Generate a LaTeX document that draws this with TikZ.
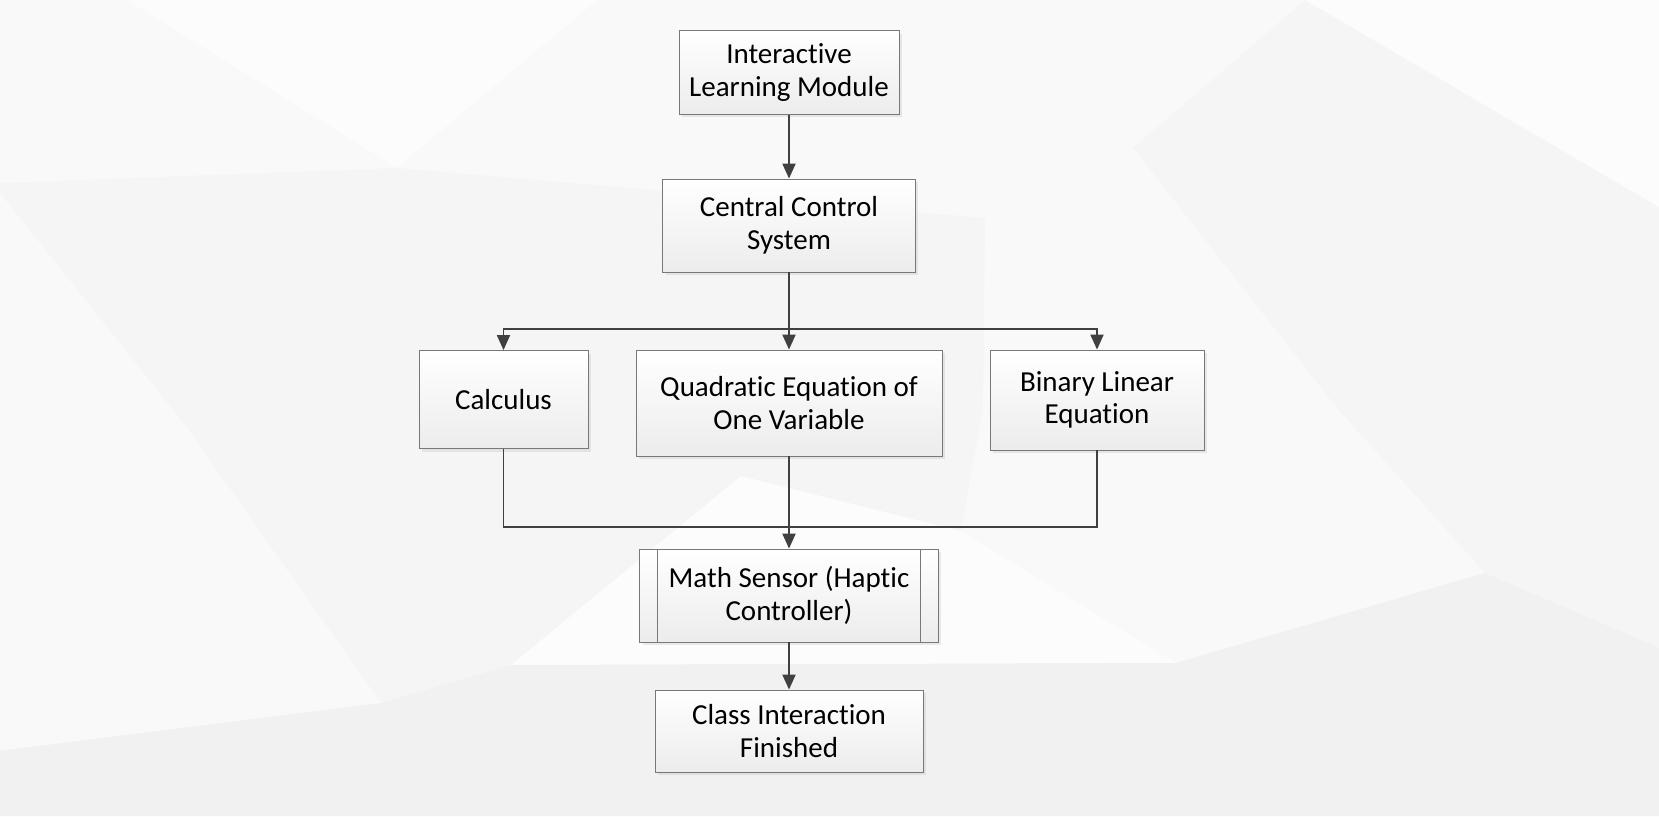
\documentclass[tikz,border=0pt]{standalone}
\usepackage{fontspec}
\setmainfont{Carlito}[Ligatures=CommonOff]
\usetikzlibrary{arrows.meta, shadows}
\definecolor{bgbase}{RGB}{245,245,245}
\definecolor{bglight}{RGB}{249,249,249}
\definecolor{bgwhite}{RGB}{252,252,252}
\definecolor{bgdark}{RGB}{241,241,241}
\definecolor{boxline}{RGB}{120,120,120}
\definecolor{boxbot}{RGB}{236,236,236}
\definecolor{linegray}{RGB}{64,64,64}

\begin{document}
\begin{tikzpicture}[x=0.02cm, y=-0.02cm,
  box/.style={draw=boxline, line width=0.5pt, top color=white, bottom color=boxbot,
    align=center, inner sep=0pt, font=\fontsize{16.5}{18.6}\selectfont,
    drop shadow={shadow xshift=0.06cm, shadow yshift=-0.06cm, opacity=0.15}},
  arr/.style={draw=linegray, line width=1.1pt, -{Triangle[length=0.3cm,width=0.26cm]}},
  line/.style={draw=linegray, line width=1.1pt}]
  \useasboundingbox (0,0) rectangle (1659,816);
  % background
  \fill[bgbase] (0,0) rectangle (1659,816);
  \fill[bglight] (0,0) -- (127,0) -- (397,168) -- (0,183) -- cycle;
  \fill[bgwhite] (127,0) -- (598,0) -- (397,168) -- cycle;
  \fill[bglight] (598,0) -- (1305,0) -- (1133,148) -- (985,218) -- (397,168) -- cycle;
  \fill[bgwhite] (1305,0) -- (1659,0) -- (1659,207) -- cycle;
  \fill[bglight] (985,218) -- (1133,148) -- (1337,408) -- (1485,573) -- (1176,663) -- (961,531) -- (983,408) -- cycle;
  \fill[bglight] (0,193) -- (185,425) -- (381,703) -- (0,751) -- cycle;
  \fill[bgwhite] (511,665) -- (741,476) -- (961,531) -- (1176,663) -- cycle;
  \fill[bgdark] (0,751) -- (381,703) -- (511,665) -- (1176,663) -- (1485,573) -- (1659,648) -- (1659,816) -- (0,816) -- cycle;

  % boxes
  \node[box, minimum width=4.4cm, minimum height=1.68cm] (ilm) at (789,72.5) {Interactive\\Learning Module};
  \node[box, minimum width=5.06cm, minimum height=1.86cm] (ccs) at (789,225.5) {Central Control\\System};
  \node[box, minimum width=3.38cm, minimum height=1.96cm] (calc) at (503.5,399.5) {Calculus};
  \node[box, minimum width=6.12cm, minimum height=2.12cm] (quad) at (789,403) {Quadratic Equation of\\One Variable};
  \node[box, minimum width=4.28cm, minimum height=2cm] (bin) at (1097,400) {Binary Linear\\Equation};
  \node[box, minimum width=5.98cm, minimum height=1.86cm] (sensor) at (789,595.5) {Math Sensor (Haptic\\Controller)};
  \node[box, minimum width=5.36cm, minimum height=1.64cm] (cif) at (789,731) {Class Interaction\\Finished};
  \draw[boxline, line width=0.5pt] ([xshift=0.36cm]sensor.north west) -- ([xshift=0.36cm]sensor.south west);
  \draw[boxline, line width=0.5pt] ([xshift=-0.36cm]sensor.north east) -- ([xshift=-0.36cm]sensor.south east);

  % connectors
  \coordinate (split) at (789,329);
  \coordinate (join) at (789,527);
  \draw[arr] (ilm) -- (ccs);
  \draw[arr] (ccs) -- (quad);
  \draw[arr] (split) -| (calc);
  \draw[arr] (split) -| (bin);
  \draw[line] (calc) |- (join);
  \draw[line] (bin) |- (join);
  \draw[arr] (quad) -- (sensor);
  \draw[arr] (sensor) -- (cif);
\end{tikzpicture}
\end{document}
